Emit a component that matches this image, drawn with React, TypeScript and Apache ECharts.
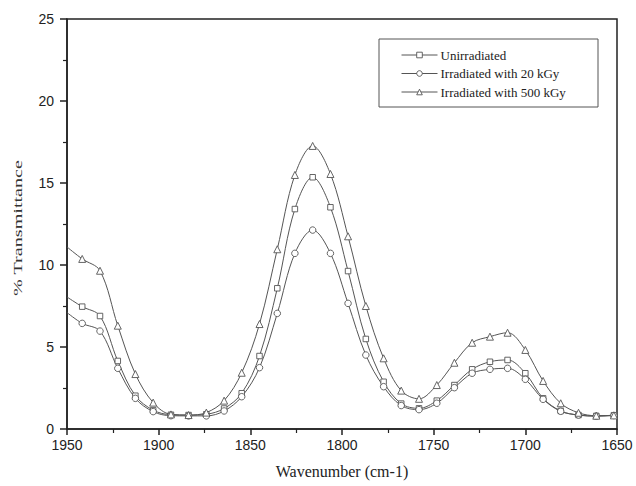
import React, { useEffect, useRef } from "react";
import * as echarts from "echarts";

const seriesNames = ["Unirradiated", "Irradiated with 20 kGy", "Irradiated with 500 kGy"];

// Wavenumbers (cm-1) at which markers appear
const markerWavenumbers = [
  1941.7, 1932, 1922.3, 1912.7, 1903, 1893.3, 1883.7, 1874, 1864.3, 1854.7,
  1845, 1835.3, 1825.7, 1816, 1806.3, 1796.7, 1787, 1777.3, 1767.7, 1758,
  1748.3, 1738.7, 1729, 1719.3, 1709.7, 1700, 1690.3, 1680.7, 1671, 1661.3, 1651.7,
];

const unirradiated = [
  7.46, 6.89, 4.15, 2.03, 1.15, 0.87, 0.85, 0.9, 1.25, 2.18,
  4.45, 8.58, 13.41, 15.35, 13.52, 9.63, 5.49, 2.88, 1.55, 1.26,
  1.73, 2.68, 3.64, 4.1, 4.21, 3.4, 1.87, 1.1, 0.85, 0.8, 0.84,
];

const irradiated20 = [
  6.44, 5.97, 3.7, 1.87, 1.06, 0.81, 0.8, 0.8, 1.1, 1.97,
  3.74, 7.05, 10.71, 12.13, 10.71, 7.66, 4.51, 2.58, 1.43, 1.18,
  1.57, 2.52, 3.4, 3.64, 3.7, 3.03, 1.81, 1.08, 0.85, 0.78, 0.82,
];

const irradiated500 = [
  10.37, 9.65, 6.3, 3.35, 1.61, 0.89, 0.85, 1.0, 1.73, 3.43,
  6.4, 10.96, 15.49, 17.26, 15.55, 11.75, 7.5, 4.31, 2.34, 1.84,
  2.68, 4.04, 5.26, 5.63, 5.87, 4.82, 2.93, 1.57, 0.99, 0.81, 0.83,
];

// Curve values at the plot edges (no marker drawn there)
const startWavenumber = 1950;
const endWavenumber = 1650;
const startValues = [8.05, 7.1, 11.1];
const endValues = [0.85, 0.83, 0.84];

const symbols = ["rect", "circle", "triangle"];
const symbolSizes = [5.5, 6.5, 7];

const xTickMin = 1650;
const xTickMax = 1950;
const yTickMin = 0;
const yTickMax = 25;

const valueLists = [unirradiated, irradiated20, irradiated500];

function buildData(i: number) {
  const vals = valueLists[i];
  const data: any[] = [{ value: [startWavenumber, startValues[i]], symbol: "none" }];
  markerWavenumbers.forEach((w, k) => data.push([w, vals[k]]));
  data.push({ value: [endWavenumber, endValues[i]], symbol: "none" });
  return data;
}

export default function App() {
  const ref = useRef<HTMLDivElement>(null);
  useEffect(() => {
    document.body.style.margin = "0";
    if (!ref.current) return;
    const chart = echarts.init(ref.current, undefined, { renderer: "svg" });
    const axisColor = "#222";
    const sans = "'Liberation Sans', Arial, sans-serif";
    const serif = "'Liberation Serif', 'Times New Roman', serif";
    chart.setOption({
      animation: false,
      backgroundColor: "#fff",
      grid: {
        left: 67,
        right: 19,
        top: 19,
        bottom: 57,
        show: true,
        borderColor: axisColor,
        borderWidth: 1.5,
      },
      xAxis: {
        type: "value",
        min: xTickMin,
        max: xTickMax,
        interval: 50,
        inverse: true,
        name: "Wavenumber (cm-1)",
        nameLocation: "middle",
        nameGap: 34,
        nameTextStyle: { fontFamily: serif, fontSize: 16, color: "#222" },
        axisLine: { lineStyle: { color: axisColor, width: 1.5 } },
        axisTick: { length: 6, lineStyle: { color: axisColor, width: 1.5 } },
        minorTick: { show: true, splitNumber: 2, length: 4, lineStyle: { color: axisColor, width: 1.2 } },
        axisLabel: {
          fontFamily: sans,
          fontSize: 14,
          color: "#222",
          margin: 9,
          formatter: (v: number) => String(v),
        },
        splitLine: { show: false },
      },
      yAxis: {
        type: "value",
        min: yTickMin,
        max: yTickMax,
        interval: 5,
        axisLine: { show: true, lineStyle: { color: axisColor, width: 1.5 } },
        axisTick: { show: true, length: 7, lineStyle: { color: axisColor, width: 1.5 } },
        minorTick: { show: true, splitNumber: 2, length: 4, lineStyle: { color: axisColor, width: 1.2 } },
        axisLabel: { fontFamily: sans, fontSize: 14, color: "#222", margin: 13 },
        splitLine: { show: false },
      },
      legend: {
        orient: "vertical",
        left: 401,
        top: 48,
        padding: 0,
        itemWidth: 36,
        itemHeight: 7,
        itemGap: 4.5,
        data: seriesNames,
        lineStyle: { width: 1 },
        itemStyle: { borderWidth: 0.9 },
        textStyle: { fontFamily: serif, fontSize: 13, color: "#222", lineHeight: 14, padding: [0, 0, 0, -2] },
      },
      graphic: [
        {
          type: "rect",
          shape: { x: 379, y: 39, width: 219, height: 68 },
          style: { fill: "none", stroke: "#555", lineWidth: 1 },
          z: 10,
        },
        {
          type: "text",
          x: 18,
          y: 228,
          rotation: Math.PI / 2,
          scaleX: 1.55,
          style: {
            text: "% Transmittance",
            fontFamily: serif,
            fontSize: 13,
            fill: "#333",
            align: "center",
            verticalAlign: "middle",
          },
        },
      ],
      series: seriesNames.map((name, i) => ({
        name,
        type: "line",
        data: buildData(i),
        smooth: 0.35,
        symbol: symbols[i],
        symbolSize: symbolSizes[i],
        showAllSymbol: true,
        lineStyle: { color: "#555", width: 1 },
        itemStyle: { color: "#fff", borderColor: "#555", borderWidth: 0.9 },
        emphasis: { disabled: true },
      })),
    });
    return () => chart.dispose();
  }, []);
  return <div ref={ref} style={{ width: 636, height: 486 }} />;
}
